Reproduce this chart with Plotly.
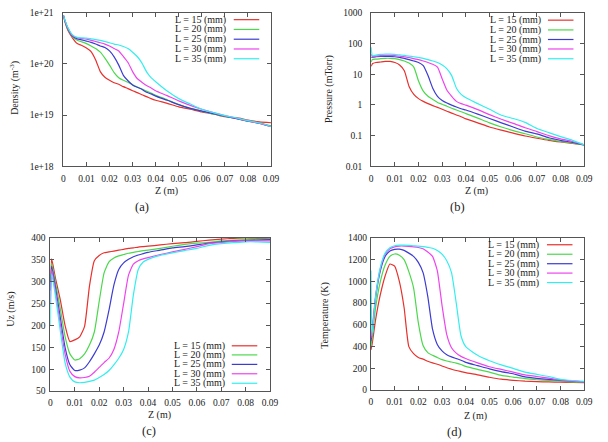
import plotly.graph_objects as go

W, H = 608, 442

# ---------------- data ----------------
Z = [0, 0.0005, 0.002, 0.004, 0.006, 0.008, 0.010, 0.012, 0.014, 0.016, 0.018,
     0.020, 0.022, 0.024, 0.026, 0.028, 0.030, 0.032, 0.034, 0.036, 0.038,
     0.040, 0.045, 0.050, 0.055, 0.060, 0.065, 0.070, 0.075, 0.080, 0.085, 0.090]

LABELS = ["L = 15 (mm)", "L = 20 (mm)", "L = 25 (mm)", "L = 30 (mm)", "L = 35 (mm)"]
COLORS = ["#e8302c", "#4cd84c", "#3c3cd2", "#ee44ee", "#33eeee"]

X_TICKS = [0, 0.01, 0.02, 0.03, 0.04, 0.05, 0.06, 0.07, 0.08, 0.09]
X_TICK_TEXT = ["0", "0.01", "0.02", "0.03", "0.04", "0.05", "0.06", "0.07", "0.08", "0.09"]

DENS_TICKS = [1e18, 1e19, 1e20, 1e21]
DENS_TICK_TEXT = ["1e+18", "1e+19", "1e+20", "1e+21"]
PRES_TICKS = [0.01, 0.1, 1, 10, 100, 1000]
PRES_TICK_TEXT = ["0.01", "0.1", "1", "10", "100", "1000"]

# (a) Density (m^-3)
dens_15 = [8.9e20, 7.1e20, 4.5e20, 3.2e20, 2.5e20, 2.3e20, 2.05e20, 1.75e20, 1.2e20, 7.1e19, 5.5e19,
           4.8e19, 4.3e19, 4.0e19, 3.6e19, 3.3e19, 3.0e19, 2.75e19, 2.5e19, 2.3e19, 2.1e19,
           1.95e19, 1.7e19, 1.45e19, 1.3e19, 1.15e19, 1.05e19, 9.3e18, 8.9e18, 8.0e18, 7.4e18, 7.1e18]
dens_20 = [8.9e20, 7.3e20, 4.7e20, 3.4e20, 2.9e20, 2.7e20, 2.5e20, 2.25e20, 2.0e20, 1.7e20, 1.3e20,
           9.5e19, 6.8e19, 5.4e19, 4.8e19, 4.4e19, 3.9e19, 3.55e19, 3.25e19, 2.95e19, 2.7e19,
           2.45e19, 2.0e19, 1.6e19, 1.35e19, 1.2e19, 1.05e19, 9.4e18, 8.6e18, 7.6e18, 7.0e18, 6.2e18]
dens_25 = [9.0e20, 7.4e20, 4.9e20, 3.5e20, 3.1e20, 2.95e20, 2.8e20, 2.65e20, 2.45e20, 2.25e20, 2.1e20,
           1.8e20, 1.38e20, 9.5e19, 6.0e19, 4.7e19, 3.9e19, 3.5e19, 3.2e19, 2.8e19, 2.6e19,
           2.35e19, 1.95e19, 1.6e19, 1.35e19, 1.2e19, 1.07e19, 9.5e18, 8.5e18, 7.6e18, 6.9e18, 6.0e18]
dens_30 = [9.0e20, 7.5e20, 5.0e20, 3.6e20, 3.25e20, 3.15e20, 3.05e20, 2.9e20, 2.75e20, 2.6e20, 2.45e20,
           2.25e20, 2.0e20, 1.8e20, 1.4e20, 1.07e20, 7.1e19, 5.2e19, 4.4e19, 3.8e19, 3.4e19,
           3.0e19, 2.4e19, 1.9e19, 1.55e19, 1.3e19, 1.12e19, 9.8e18, 8.7e18, 7.7e18, 6.9e18, 6.0e18]
dens_35 = [9.0e20, 7.6e20, 5.1e20, 3.7e20, 3.3e20, 3.25e20, 3.2e20, 3.1e20, 3.0e20, 2.9e20, 2.75e20,
           2.6e20, 2.45e20, 2.35e20, 2.2e20, 2.0e20, 1.7e20, 1.4e20, 1.05e20, 7.1e19, 5.4e19,
           4.5e19, 2.95e19, 2.1e19, 1.65e19, 1.3e19, 1.12e19, 9.8e18, 8.8e18, 7.8e18, 7.0e18, 6.0e18]

# (b) Pressure (mTorr)
pres_15 = [18, 22, 24, 25, 26, 26, 24, 20, 13, 4.0, 2.2,
           1.6, 1.3, 1.1, 0.95, 0.83, 0.72, 0.62, 0.54, 0.47, 0.41,
           0.35, 0.26, 0.19, 0.15, 0.12, 0.097, 0.082, 0.07, 0.062, 0.056, 0.05]
pres_20 = [25, 30, 31, 32, 33, 33, 32, 30, 27, 23, 17,
           6.0, 2.8, 1.9, 1.5, 1.2, 1.05, 0.9, 0.78, 0.68, 0.6,
           0.52, 0.37, 0.26, 0.19, 0.145, 0.115, 0.09, 0.075, 0.064, 0.057, 0.05]
pres_25 = [35, 36, 37, 38, 38, 38, 37, 35, 33, 30, 27,
           24, 19, 9.0, 3.5, 1.9, 1.4, 1.15, 0.98, 0.85, 0.75,
           0.68, 0.5, 0.36, 0.26, 0.19, 0.14, 0.113, 0.085, 0.07, 0.06, 0.05]
pres_30 = [45, 38, 39, 40, 41, 41, 40, 39, 37, 35, 32,
           30, 27, 24, 21, 17, 7.0, 3.0, 1.9, 1.3, 1.1,
           0.98, 0.7, 0.48, 0.34, 0.25, 0.18, 0.135, 0.1, 0.078, 0.064, 0.05]
pres_35 = [75, 40, 42, 44, 45, 45, 44, 43, 41, 39, 37,
           35, 33, 30, 27, 24, 20, 15, 9.0, 3.5, 2.2,
           1.7, 1.1, 0.72, 0.46, 0.36, 0.27, 0.17, 0.125, 0.092, 0.07, 0.05]

# (c) Uz (m/s)
uz_15 = [300, 352, 310, 260, 200, 163, 167, 174, 198, 290, 348,
         360, 366, 368, 370, 372, 374, 376, 377, 379, 380,
         381, 384, 387, 389, 392, 395, 397, 399, 400, 399, 398]
uz_20 = [300, 342, 300, 240, 175, 135, 121, 124, 135, 155, 185,
         255, 320, 345, 354, 359, 362, 365, 367, 369, 371,
         372, 376, 381, 385, 388, 390, 393, 395, 396, 397, 397]
uz_25 = [280, 335, 290, 220, 150, 110, 97, 98, 103, 117, 135,
         155, 185, 235, 292, 328, 343, 351, 357, 361, 364,
         367, 372, 377, 380, 384, 388, 391, 393, 394, 395, 396]
uz_30 = [250, 328, 280, 205, 135, 95, 83, 80, 81, 84, 93,
         104, 115, 125, 145, 185, 250, 315, 340, 348, 352,
         355, 362, 368, 374, 380, 387, 390, 392, 393, 393, 393]
uz_35 = [200, 318, 270, 190, 115, 82, 71, 69, 70, 72, 75,
         81, 88, 97, 110, 125, 145, 185, 270, 328, 345,
         351, 360, 366, 371, 376, 383, 387, 389, 391, 391, 390]

# (d) Temperature (K)
temp_15 = [370, 420, 650, 880, 1050, 1160, 1140, 1000, 760, 400, 335,
           300, 285, 265, 250, 238, 222, 205, 192, 180, 170,
           160, 140, 118, 100, 90, 82, 78, 75, 72, 70, 68]
temp_20 = [400, 480, 760, 1000, 1150, 1230, 1252, 1240, 1200, 1090, 940,
           620, 410, 345, 320, 300, 280, 268, 258, 248, 235,
           218, 190, 165, 135, 120, 105, 95, 88, 80, 75, 70]
temp_25 = [450, 520, 850, 1100, 1230, 1280, 1295, 1296, 1285, 1260, 1230,
           1175, 1080, 860, 560, 420, 360, 325, 305, 290, 275,
           255, 225, 195, 170, 150, 122, 108, 98, 90, 82, 75]
temp_30 = [480, 550, 870, 1120, 1250, 1300, 1318, 1325, 1325, 1322, 1318,
           1312, 1300, 1270, 1230, 1100, 780, 510, 390, 340, 310,
           290, 250, 215, 190, 165, 140, 125, 110, 92, 82, 75]
temp_35 = [1100, 500, 860, 1130, 1260, 1310, 1328, 1334, 1334, 1332, 1328,
           1325, 1320, 1313, 1305, 1285, 1250, 1190, 1080, 800, 500,
           400, 320, 270, 232, 200, 165, 145, 125, 100, 88, 80]

PANELS = [
    ("x", "y", [dens_15, dens_20, dens_25, dens_30, dens_35]),
    ("x2", "y2", [pres_15, pres_20, pres_25, pres_30, pres_35]),
    ("x3", "y3", [uz_15, uz_20, uz_25, uz_30, uz_35]),
    ("x4", "y4", [temp_15, temp_20, temp_25, temp_30, temp_35]),
]

# ---------------- figure ----------------
FONT = "Liberation Serif, Times New Roman, serif"
AX = "#555555"
TXT = "#222222"

fig = go.Figure()
for xa, ya, series in PANELS:
    for vals, name, col in zip(series, LABELS, COLORS):
        fig.add_trace(go.Scatter(x=Z, y=vals, mode="lines", name=name,
                                 line=dict(color=col, width=1.2, shape="spline", smoothing=0.5),
                                 xaxis=xa, yaxis=ya, showlegend=False))


def px_x(p):
    return p / W


def px_y(p):
    return 1 - p / H


# plot-area boxes in pixels: (left, right, top, bottom)
BOX = {
    "a": (62.5, 274, 8, 165),
    "b": (376, 593, 8, 165),
    "c": (49.3, 273, 238.3, 395),
    "d": (375.7, 593, 238.3, 394),
}


def xaxis(box, anchor):
    l, r, t, b = box
    return dict(domain=[px_x(l), px_x(r)], anchor=anchor, range=[0, 0.09],
                tickvals=X_TICKS, ticktext=X_TICK_TEXT, ticks="inside", ticklen=4,
                tickcolor=AX, showline=True, linecolor=AX, linewidth=1, mirror="ticks",
                showgrid=False, zeroline=False, ticklabelstandoff=3,
                tickfont=dict(family=FONT, size=9.5, color=TXT))


def yaxis(box, anchor, standoff, **kw):
    l, r, t, b = box
    d = dict(domain=[px_y(b), px_y(t)], anchor=anchor, ticks="inside", ticklen=4,
             tickcolor=AX, showline=True, linecolor=AX, linewidth=1, mirror="ticks",
             showgrid=False, zeroline=False, ticklabelstandoff=standoff,
             tickfont=dict(family=FONT, size=9.5, color=TXT))
    d.update(kw)
    return d


fig.update_layout(
    width=W, height=H, margin=dict(l=0, r=0, t=0, b=0),
    paper_bgcolor="white", plot_bgcolor="white", showlegend=False,
    font=dict(family=FONT, size=10, color=TXT),
    xaxis=xaxis(BOX["a"], "y"),
    yaxis=yaxis(BOX["a"], "x", 7, type="log", range=[18, 21],
                tickvals=DENS_TICKS, ticktext=DENS_TICK_TEXT),
    xaxis2=xaxis(BOX["b"], "y2"),
    yaxis2=yaxis(BOX["b"], "x2", 6, type="log", range=[-2, 3],
                 tickvals=PRES_TICKS, ticktext=PRES_TICK_TEXT),
    xaxis3=xaxis(BOX["c"], "y3"),
    yaxis3=yaxis(BOX["c"], "x3", 2, range=[50, 400], dtick=50),
    xaxis4=xaxis(BOX["d"], "y4"),
    yaxis4=yaxis(BOX["d"], "x4", 1, range=[0, 1400], dtick=200),
)

annotations = []
shapes = []


def text(x, y, s, size=10, angle=0, xanchor="center"):
    annotations.append(dict(x=px_x(x), y=px_y(y), xref="paper", yref="paper", text=s,
                            showarrow=False, textangle=angle, xanchor=xanchor, yanchor="middle",
                            font=dict(family=FONT, size=size, color=TXT)))


# axis titles and panel captions
text(12, 85, "Density (m<sup>-3</sup>)", angle=-90)
text(168, 190, "Z (m)")
text(143, 207, "(a)", size=12.5)
text(333, 86, "Pressure (mTorr)", angle=-90)
text(483, 190, "Z (m)")
text(464, 207, "(b)", size=12.5)
text(9, 311, "Uz (m/s)", angle=-90)
text(160, 420, "Z (m)")
text(150, 436, "(c)", size=12.5)
text(329, 318, "Temperature (K)", angle=-90)
text(482, 421, "Z (m)")
text(461, 437, "(d)", size=12.5)

# legends (text right-aligned, line sample to the right)
LEGENDS = [
    (230, 236, 262, [15, 25, 35, 45, 55]),
    (551, 556, 582, [15.5, 25.5, 35.3, 45, 55]),
    (229, 234, 260, [348.7, 358, 367.7, 377.3, 387]),
    (549, 555, 581, [245.3, 255, 264.7, 274.3, 284]),
]
for tx, lx0, lx1, rows in LEGENDS:
    for name, col, ry in zip(LABELS, COLORS, rows):
        text(tx, ry, name, size=10, xanchor="right")
        shapes.append(dict(type="line", xref="paper", yref="paper",
                           x0=px_x(lx0), x1=px_x(lx1), y0=px_y(ry), y1=px_y(ry),
                           line=dict(color=col, width=1.2)))

fig.update_layout(annotations=annotations, shapes=shapes)
fig.write_html("out.html")
